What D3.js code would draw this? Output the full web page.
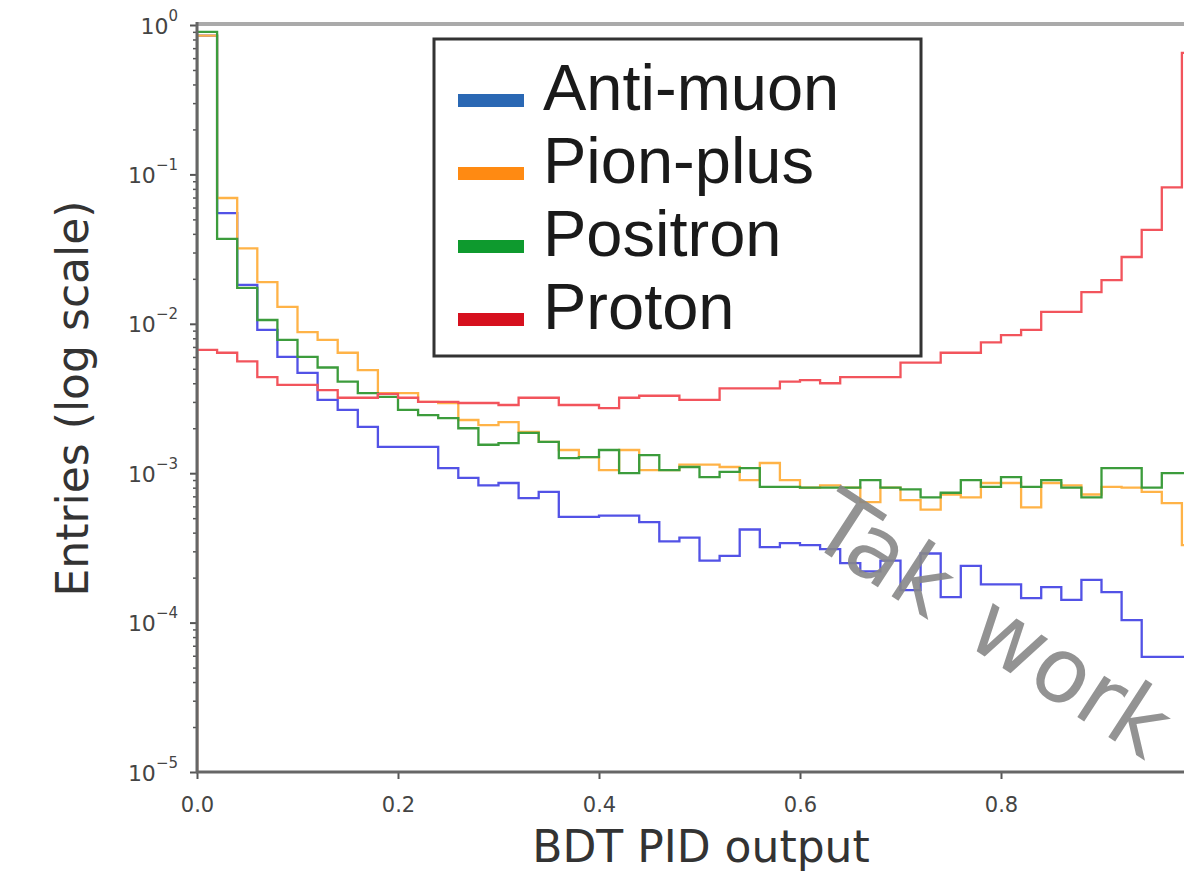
<!DOCTYPE html>
<html>
<head>
<meta charset="utf-8">
<script src="https://cdn.jsdelivr.net/npm/d3@7"></script>
<style>
  body { margin: 0; background: white; }
</style>
</head>
<body>
<script>
let w = 1184;
let h = 880;

// histogram bins: 50 bins of width 0.02 on [0, 1]
const binEdges = d3.range(0, 51).map(i => i * 0.02);

const antiMuon = [0.85, 0.055, 0.0182, 0.0091, 0.0060, 0.0047, 0.0031, 0.00265, 0.00204, 0.00150,
  0.00150, 0.00150, 0.00108, 0.00093, 0.00083, 0.00086, 0.00068, 0.00075, 0.00051, 0.00051,
  0.00052, 0.00052, 0.00047, 0.00035, 0.00037, 0.00026, 0.00028, 0.00042, 0.00032, 0.00034,
  0.00033, 0.00031, 0.00025, 0.00022, 0.00026, 0.000165, 0.00029, 0.000148, 0.00024, 0.00018,
  0.00018, 0.000146, 0.000173, 0.000142, 0.000193, 0.00016, 0.000104, 0.000059, 0.000059, 0.000059];

const pionPlus = [0.85, 0.0695, 0.032, 0.019, 0.013, 0.0088, 0.0078, 0.0064, 0.0049, 0.00344,
  0.00344, 0.0030, 0.00295, 0.00227, 0.0021, 0.0022, 0.00189, 0.00162, 0.00143, 0.00128,
  0.00105, 0.00143, 0.00105, 0.00105, 0.00114, 0.00114, 0.0011, 0.0009, 0.00117, 0.0009,
  0.0008, 0.00083, 0.0008, 0.00064, 0.0008, 0.00066, 0.00057, 0.00072, 0.00069, 0.00086,
  0.00086, 0.00059, 0.00086, 0.00083, 0.00072, 0.00081, 0.0008, 0.00075, 0.00063, 0.00033];

const positron = [0.90, 0.037, 0.0174, 0.0106, 0.0078, 0.0060, 0.0051, 0.0041, 0.00344, 0.00324,
  0.00265, 0.00245, 0.00234, 0.0020, 0.00155, 0.00159, 0.00186, 0.00162, 0.00126, 0.00128,
  0.00143, 0.0010, 0.00132, 0.00105, 0.0011, 0.00094, 0.00102, 0.00108, 0.00081, 0.00081,
  0.0008, 0.0008, 0.0008, 0.0009, 0.0008, 0.00078, 0.00069, 0.00074, 0.0009, 0.00081,
  0.00094, 0.00081, 0.0009, 0.0008, 0.00069, 0.00108, 0.00108, 0.0008, 0.001, 0.001];

const proton = [0.0067, 0.0064, 0.0056, 0.0044, 0.0039, 0.0039, 0.0036, 0.0032, 0.0032, 0.0034,
  0.0032, 0.0030, 0.0030, 0.00295, 0.00295, 0.00286, 0.0032, 0.0032, 0.00286, 0.00286,
  0.00273, 0.0032, 0.0033, 0.0033, 0.0031, 0.0031, 0.0037, 0.0037, 0.0037, 0.0041,
  0.0042, 0.0040, 0.0044, 0.0044, 0.0044, 0.0055, 0.0055, 0.0064, 0.0064, 0.0075,
  0.0084, 0.0091, 0.012, 0.012, 0.0163, 0.0196, 0.028, 0.0425, 0.082, 0.65];

const seriesNames = ['Anti-muon', 'Pion-plus', 'Positron', 'Proton'];
const lineColors = ['#5252e6', '#ffb347', '#3c9c3c', '#f2545c'];
const handleColors = ['#2a68b4', '#ff8a12', '#0e9a2e', '#d6101e'];

const xTicks = [0, 0.2, 0.4, 0.6, 0.8, 1.0];
const xTickLabels = ['0.0', '0.2', '0.4', '0.6', '0.8', '1.0'];
const yMajor = [1, 1e-1, 1e-2, 1e-3, 1e-4, 1e-5];
const yExps = ['0', '\u22121', '\u22122', '\u22123', '\u22124', '\u22125'];

const svg = d3.select('body')
  .append('svg')
  .attr('width', w)
  .attr('height', h)
  .style('background-color', 'white');

const x = d3.scaleLinear().domain([0, 1]).range([197, 1202]);
const y = d3.scaleLog().domain([1e-5, 1]).range([772, 25]);

svg.append('clipPath').attr('id', 'plotclip')
  .append('rect')
  .attr('x', x(0)).attr('y', y(1))
  .attr('width', x(1) - x(0)).attr('height', y(1e-5) - y(1));

// step histograms
const step = d3.line()
  .x(d => x(d[0]))
  .y(d => y(d[1]))
  .curve(d3.curveStepAfter);

const allSeries = [antiMuon, pionPlus, positron, proton];

svg.append('g')
  .attr('clip-path', 'url(#plotclip)')
  .selectAll('path')
  .data(allSeries)
  .enter()
  .append('path')
  .attr('d', function (vals) {
    let pts = [[0, 1e-5]];
    vals.forEach((v, i) => pts.push([binEdges[i], v]));
    pts.push([binEdges[50], vals[49]]);
    pts.push([binEdges[50], 1e-5]);
    return step(pts);
  })
  .attr('fill', 'none')
  .attr('stroke', (d, i) => lineColors[i])
  .attr('stroke-width', 2.3);

// minor y ticks
const yMinor = y.ticks().filter(t => yMajor.indexOf(t) < 0);
svg.append('g')
  .attr('transform', `translate(${x(0)},0)`)
  .call(d3.axisLeft(y).tickValues(yMinor).tickSize(4).tickFormat(''))
  .call(g => g.select('.domain').remove())
  .call(g => g.selectAll('line').attr('stroke', '#555').attr('stroke-width', 1.5));

// major y ticks
const yAxis = svg.append('g')
  .attr('transform', `translate(${x(0)},0)`)
  .call(d3.axisLeft(y).tickValues(yMajor).tickSize(7).tickFormat(''))
  .call(g => g.select('.domain').remove())
  .call(g => g.selectAll('line').attr('stroke', '#555').attr('stroke-width', 2));

yAxis.selectAll('.tick').each(function (d, i) {
  const t = d3.select(this).append('text')
    .attr('x', -19)
    .attr('y', 8)
    .attr('text-anchor', 'end')
    .style('font-family', 'DejaVu Sans')
    .style('font-size', '22px')
    .attr('fill', '#444');
  t.append('tspan').text('10');
  t.append('tspan').attr('dy', -13).style('font-size', '15px').text(yExps[i]);
});

// x axis
svg.append('g')
  .attr('transform', `translate(0,${y(1e-5)})`)
  .call(d3.axisBottom(x).tickValues(xTicks).tickSize(7).tickFormat((d, i) => xTickLabels[i]))
  .call(g => g.select('.domain').remove())
  .call(g => g.selectAll('line').attr('stroke', '#555').attr('stroke-width', 2))
  .call(g => g.selectAll('text')
    .attr('y', 25)
    .style('font-family', 'DejaVu Sans')
    .style('font-size', '21px')
    .attr('fill', '#444'));

// spines
svg.append('line')
  .attr('x1', x(0)).attr('x2', x(1)).attr('y1', y(1) - 1).attr('y2', y(1) - 1)
  .attr('stroke', '#aaa').attr('stroke-width', 4);
svg.append('line')
  .attr('x1', x(0)).attr('x2', x(0)).attr('y1', y(1) - 3).attr('y2', y(1e-5) + 1)
  .attr('stroke', '#666').attr('stroke-width', 3);
svg.append('line')
  .attr('x1', x(0) - 1).attr('x2', x(1)).attr('y1', y(1e-5)).attr('y2', y(1e-5))
  .attr('stroke', '#666').attr('stroke-width', 3);

// axis labels
svg.append('text')
  .attr('transform', `translate(88,${(y(1) + y(1e-5)) / 2}) rotate(-90)`)
  .attr('text-anchor', 'middle')
  .style('font-family', 'DejaVu Sans')
  .style('font-size', '44px')
  .attr('fill', '#333')
  .text('Entries (log scale)');

svg.append('text')
  .attr('x', 701)
  .attr('y', 862)
  .attr('text-anchor', 'middle')
  .style('font-family', 'DejaVu Sans')
  .style('font-size', '44px')
  .attr('fill', '#333')
  .text('BDT PID output');

// legend
const legend = svg.append('g').attr('id', 'legend');
legend.append('rect')
  .attr('x', 434).attr('y', 39)
  .attr('width', 487).attr('height', 317)
  .attr('fill', 'white')
  .attr('stroke', '#333')
  .attr('stroke-width', 3);

const items = legend.selectAll('.legend-item')
  .data(seriesNames)
  .enter()
  .append('g')
  .attr('class', 'legend-item')
  .attr('transform', (d, i) => `translate(0,${110 + i * 73})`);

items.append('rect')
  .attr('x', 458).attr('y', -16)
  .attr('width', 66).attr('height', 13)
  .attr('fill', (d, i) => handleColors[i]);

items.append('text')
  .attr('x', 543).attr('y', 0)
  .style('font-family', 'Liberation Sans')
  .style('font-size', '65px')
  .attr('fill', '#1a1a1a')
  .text(d => d);

// watermark
svg.append('text')
  .attr('transform', 'translate(805,540) rotate(33)')
  .style('font-family', 'DejaVu Sans')
  .style('font-size', '90px')
  .style('word-spacing', '12px')
  .attr('fill', '#888')
  .attr('opacity', 0.9)
  .text('Tak work');
</script>
</body>
</html>
